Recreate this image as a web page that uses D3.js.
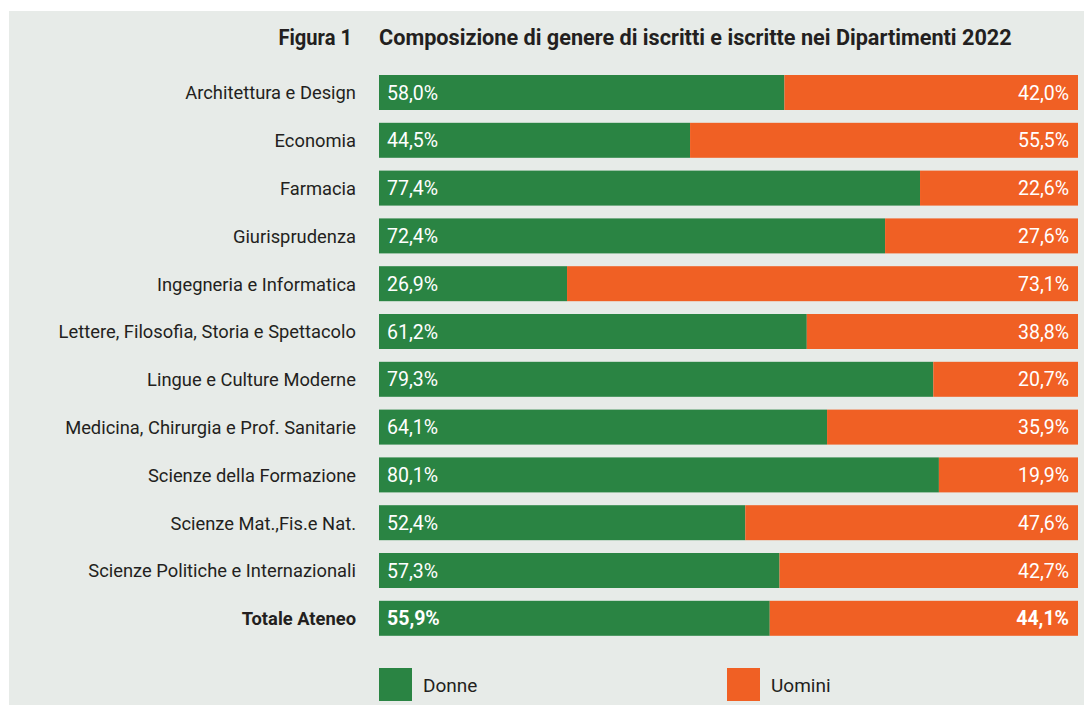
<!DOCTYPE html>
<html>
<head>
<meta charset="utf-8">
<script src="https://cdn.jsdelivr.net/npm/d3@7"></script>
<style>
  html, body { margin: 0; padding: 0; background: #fff; }
  svg { display: block; }
  text { font-family: Roboto, "Liberation Sans", sans-serif; }
</style>
</head>
<body>
<div id="chart"></div>
<script>
// data
const categories = [
  "Architettura e Design",
  "Economia",
  "Farmacia",
  "Giurisprudenza",
  "Ingegneria e Informatica",
  "Lettere, Filosofia, Storia e Spettacolo",
  "Lingue e Culture Moderne",
  "Medicina, Chirurgia e Prof. Sanitarie",
  "Scienze della Formazione",
  "Scienze Mat.,Fis.e Nat.",
  "Scienze Politiche e Internazionali",
  "Totale Ateneo"
]
const donne = [58.0, 44.5, 77.4, 72.4, 26.9, 61.2, 79.3, 64.1, 80.1, 52.4, 57.3, 55.9]
const uomini = [42.0, 55.5, 22.6, 27.6, 73.1, 38.8, 20.7, 35.9, 19.9, 47.6, 42.7, 44.1]
const seriesNames = ["Donne", "Uomini"]
const figLabel = "Figura 1"
const title = "Composizione di genere di iscritti e iscritte nei Dipartimenti 2022"

const width = 1085
const height = 706
const green = "#2a8443"
const orange = "#f06024"
const ink = "#231f20"

const svg = d3.select("#chart")
  .append("svg")
  .attr("width", width)
  .attr("height", height)

// panel background
svg.append("rect")
  .attr("x", 9).attr("y", 11)
  .attr("width", 1075).attr("height", 694)
  .attr("fill", "#e7ebe8")

const x = d3.scaleLinear().domain([0, 100]).range([379, 1078])
const y = d3.scaleBand().domain(categories).range([68.6, 642.2])
  .paddingInner(0.268).paddingOuter(0.134)

const fmt = v => d3.format(".1f")(v).replace(".", ",") + "%"
const isTot = (d, i) => i === categories.length - 1

// squeeze text a bit, the original uses a condensed face
function squeeze(sel, k) {
  sel.each(function () {
    const w = this.getComputedTextLength()
    d3.select(this).attr("textLength", w * k).attr("lengthAdjust", "spacingAndGlyphs")
  })
}

// title
svg.append("text")
  .attr("x", 352).attr("y", 45)
  .attr("text-anchor", "end")
  .attr("font-size", 22).attr("font-weight", 700)
  .attr("fill", ink)
  .text(figLabel)
  .call(squeeze, 0.915)

svg.append("text")
  .attr("x", 379).attr("y", 45)
  .attr("font-size", 22).attr("font-weight", 700)
  .attr("fill", ink)
  .text(title)
  .call(squeeze, 0.984)

const rows = svg.append("g")
  .selectAll("g")
  .data(categories)
  .join("g")

// green segment
rows.append("rect")
  .attr("x", x(0))
  .attr("y", d => y(d))
  .attr("width", (d, i) => x(donne[i]) - x(0))
  .attr("height", y.bandwidth())
  .attr("fill", green)

// orange segment
rows.append("rect")
  .attr("x", (d, i) => x(donne[i]))
  .attr("y", d => y(d))
  .attr("width", (d, i) => x(donne[i] + uomini[i]) - x(donne[i]))
  .attr("height", y.bandwidth())
  .attr("fill", orange)

// category labels
rows.append("text")
  .attr("x", 356)
  .attr("y", d => y(d) + y.bandwidth() / 2)
  .attr("dy", "0.36em")
  .attr("text-anchor", "end")
  .attr("font-size", 19)
  .attr("font-weight", (d, i) => isTot(d, i) ? 700 : 400)
  .attr("fill", ink)
  .text(d => d)
  .call(squeeze, 0.965)

// value labels
rows.append("text")
  .attr("x", x(0) + 8)
  .attr("y", d => y(d) + y.bandwidth() / 2)
  .attr("dy", "0.36em")
  .attr("font-size", 19.5)
  .attr("font-weight", (d, i) => isTot(d, i) ? 700 : 400)
  .attr("fill", "#fff")
  .text((d, i) => fmt(donne[i]))

rows.append("text")
  .attr("x", (d, i) => x(donne[i] + uomini[i]) - 9)
  .attr("y", d => y(d) + y.bandwidth() / 2)
  .attr("dy", "0.36em")
  .attr("text-anchor", "end")
  .attr("font-size", 19.5)
  .attr("font-weight", (d, i) => isTot(d, i) ? 700 : 400)
  .attr("fill", "#fff")
  .text((d, i) => fmt(uomini[i]))

// legend
const legend = svg.append("g")
  .selectAll("g")
  .data(seriesNames)
  .join("g")
  .attr("transform", (d, i) => `translate(${i === 0 ? 379 : 727},668)`)

legend.append("rect")
  .attr("width", 33).attr("height", 33)
  .attr("fill", (d, i) => i === 0 ? green : orange)

legend.append("text")
  .attr("x", 44).attr("y", 17)
  .attr("dy", "0.36em")
  .attr("font-size", 19)
  .attr("fill", ink)
  .text(d => d)
</script>
</body>
</html>
